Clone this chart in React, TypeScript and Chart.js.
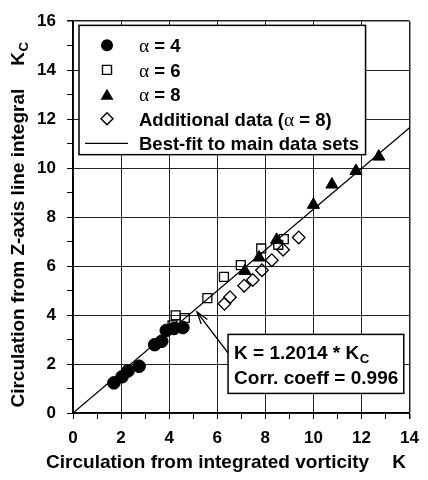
import React, { useEffect, useRef } from 'react';
import { Chart, registerables } from 'chart.js';

Chart.register(...registerables);

// ---------------- data ----------------
const alpha4X = [1.7, 2.04, 2.29, 2.75, 3.4, 3.69, 3.88, 4.2, 4.57];
const alpha4Y = [1.23, 1.48, 1.72, 1.91, 2.79, 2.93, 3.37, 3.45, 3.49];

const alpha6X = [4.14, 4.27, 4.65, 5.59, 6.28, 6.98, 7.83, 8.54, 8.77];
const alpha6Y = [3.58, 3.99, 3.88, 4.69, 5.56, 6.04, 6.72, 6.87, 7.1];

const alpha8X = [7.15, 7.74, 8.47, 10.0, 10.77, 11.77, 12.72];
const alpha8Y = [5.8, 6.35, 7.07, 8.5, 9.33, 9.88, 10.47];

const additionalX = [6.3, 6.53, 7.12, 7.48, 7.86, 8.27, 8.74, 9.39];
const additionalY = [4.46, 4.73, 5.2, 5.43, 5.83, 6.24, 6.67, 7.17];

const fitX = [0, 14];
const fitY = [0, 11.653];

const seriesLabels = ['α = 4', 'α = 6', 'α = 8', 'Additional data (α = 8)', 'Best-fit to main data sets'];

const xMin = 0;
const xMax = 14;
const yMin = 0;
const yMax = 16;
const tickStep = 1;
const labelStep = 2;

const xAxisTitle = 'Circulation from integrated vorticity';
const xAxisSymbol = 'K';
const yAxisTitle = 'Circulation from Z-axis line integral';
const yAxisSymbol = 'K';
const yAxisSub = 'C';
const fitLine1 = 'K = 1.2014 * K';
const fitLine1Sub = 'C';
const fitLine2 = 'Corr. coeff = 0.996';

// ---------------- style ----------------
const SANS = '"Liberation Sans", Arial, Helvetica, sans-serif';
const SERIF = '"Liberation Serif", "DejaVu Serif", serif';

const toPoints = (xs: number[], ys: number[]) => xs.map((x, i) => ({ x, y: ys[i] }));

function drawMixed(ctx: CanvasRenderingContext2D, text: string, x: number, y: number, size: number) {
  const parts = text.split('α');
  let cx = x;
  parts.forEach((p, i) => {
    if (i > 0) {
      ctx.font = `${size * 1.05}px ${SERIF}`;
      ctx.fillText('α', cx, y);
      cx += ctx.measureText('α').width;
    }
    ctx.font = `bold ${size}px ${SANS}`;
    ctx.fillText(p, cx, y);
    cx += ctx.measureText(p).width;
  });
}

function drawSub(ctx: CanvasRenderingContext2D, main: string, sub: string, x: number, y: number, size: number) {
  ctx.font = `bold ${size}px ${SANS}`;
  ctx.fillText(main, x, y);
  const w = ctx.measureText(main).width;
  ctx.font = `bold ${size * 0.7}px ${SANS}`;
  ctx.fillText(sub, x + w + 0.5, y + size * 0.2);
  return w + ctx.measureText(sub).width;
}

function drawMarker(ctx: CanvasRenderingContext2D, kind: string, x: number, y: number) {
  ctx.beginPath();
  ctx.lineWidth = 1.4;
  ctx.strokeStyle = '#000';
  ctx.fillStyle = '#000';
  if (kind === 'circle') {
    ctx.arc(x, y, 6, 0, Math.PI * 2);
    ctx.fill();
  } else if (kind === 'rect') {
    ctx.rect(x - 4.5, y - 4.5, 9, 9);
    ctx.stroke();
  } else if (kind === 'triangle') {
    ctx.moveTo(x - 6.5, y + 5.5);
    ctx.lineTo(x + 6.5, y + 5.5);
    ctx.lineTo(x, y - 5.5);
    ctx.closePath();
    ctx.fill();
  } else if (kind === 'diamond') {
    ctx.moveTo(x, y - 6);
    ctx.lineTo(x + 6, y);
    ctx.lineTo(x, y + 6);
    ctx.lineTo(x - 6, y);
    ctx.closePath();
    ctx.stroke();
  } else {
    ctx.moveTo(x - 22, y);
    ctx.lineTo(x + 21, y);
    ctx.lineWidth = 1.3;
    ctx.stroke();
  }
}

const overlayPlugin = {
  id: 'overlay',
  afterDraw(chart: any) {
    const { ctx, chartArea, scales } = chart;
    const xs = scales.x;
    const ys = scales.y;
    ctx.save();
    ctx.fillStyle = '#000';
    ctx.textAlign = 'left';
    ctx.textBaseline = 'alphabetic';

    // legend box
    const lx0 = xs.getPixelForValue(0.25);
    const lx1 = xs.getPixelForValue(12.17);
    const ly0 = ys.getPixelForValue(15.83);
    const ly1 = ys.getPixelForValue(10.55);
    ctx.fillStyle = '#fff';
    ctx.fillRect(lx0, ly0, lx1 - lx0, ly1 - ly0);
    ctx.strokeStyle = '#000';
    ctx.lineWidth = 1.5;
    ctx.strokeRect(lx0, ly0, lx1 - lx0, ly1 - ly0);
    const kinds = ['circle', 'rect', 'triangle', 'diamond', 'line'];
    seriesLabels.forEach((lab, i) => {
      const cy = ly0 + 20 + i * 24.5;
      drawMarker(ctx, kinds[i], lx0 + 28, cy);
      ctx.fillStyle = '#000';
      drawMixed(ctx, lab, lx0 + 60, cy + 7, 18.5);
    });

    // arrow
    const ax0 = xs.getPixelForValue(6.45);
    const ay0 = ys.getPixelForValue(2.45);
    const ax1 = xs.getPixelForValue(5.15);
    const ay1 = ys.getPixelForValue(4.13);
    ctx.beginPath();
    ctx.strokeStyle = '#000';
    ctx.lineWidth = 1.3;
    ctx.moveTo(ax0, ay0);
    ctx.lineTo(ax1, ay1);
    const ang = Math.atan2(ay0 - ay1, ax0 - ax1);
    const hl = 13;
    ctx.moveTo(ax1 + hl * Math.cos(ang + 0.3), ay1 + hl * Math.sin(ang + 0.3));
    ctx.lineTo(ax1, ay1);
    ctx.lineTo(ax1 + hl * Math.cos(ang - 0.3), ay1 + hl * Math.sin(ang - 0.3));
    ctx.stroke();

    // annotation box
    const bx0 = xs.getPixelForValue(6.45);
    const bx1 = xs.getPixelForValue(13.76);
    const by0 = ys.getPixelForValue(3.21);
    const by1 = ys.getPixelForValue(0.8);
    ctx.fillStyle = '#fff';
    ctx.fillRect(bx0, by0, bx1 - bx0, by1 - by0);
    ctx.lineWidth = 1.5;
    ctx.strokeRect(bx0, by0, bx1 - bx0, by1 - by0);
    ctx.fillStyle = '#000';
    drawSub(ctx, fitLine1, fitLine1Sub, bx0 + 6, by0 + 25, 19);
    ctx.font = `bold 19px ${SANS}`;
    ctx.fillText(fitLine2, bx0 + 6, by0 + 50);

    // x axis title
    ctx.font = `bold 19px ${SANS}`;
    const wT = ctx.measureText(xAxisTitle).width;
    const wK = ctx.measureText(xAxisSymbol).width;
    const gap = 23;
    const total = wT + gap + wK;
    const xStart = 226 - total / 2;
    const xBase = chartArea.bottom + 55;
    ctx.fillText(xAxisTitle, xStart, xBase);
    ctx.fillText(xAxisSymbol, xStart + wT + gap, xBase);

    // y axis title (rotated)
    ctx.translate(24, 225);
    ctx.rotate(-Math.PI / 2);
    ctx.font = `bold 19px ${SANS}`;
    const wYT = ctx.measureText(yAxisTitle).width;
    const wYK = ctx.measureText(yAxisSymbol).width;
    ctx.font = `bold ${19 * 0.7}px ${SANS}`;
    const wYS = ctx.measureText(yAxisSub).width;
    const totY = wYT + gap + wYK + wYS;
    const ys0 = -totY / 2;
    ctx.font = `bold 19px ${SANS}`;
    ctx.fillText(yAxisTitle, ys0, 0);
    drawSub(ctx, yAxisSymbol, yAxisSub, ys0 + wYT + gap, 0, 19);

    ctx.restore();
  },
};

const gridColor = (ctx: any) => {
  const v = ctx.tick ? ctx.tick.value : 0;
  return Math.round(v) % labelStep === 0 ? '#222' : 'rgba(0,0,0,0)';
};

export default function App() {
  const ref = useRef<HTMLCanvasElement | null>(null);

  useEffect(() => {
    if (!ref.current) return;
    const chart = new Chart(ref.current, {
      type: 'scatter',
      data: {
        datasets: [
          {
            label: seriesLabels[0],
            data: toPoints(alpha4X, alpha4Y),
            pointStyle: 'circle',
            pointRadius: 6.3,
            backgroundColor: '#000',
            borderColor: '#000',
            borderWidth: 1,
          },
          {
            label: seriesLabels[1],
            data: toPoints(alpha6X, alpha6Y),
            pointStyle: 'rect',
            pointRadius: 6.3,
            backgroundColor: 'rgba(255,255,255,0)',
            borderColor: '#000',
            borderWidth: 1.3,
          },
          {
            label: seriesLabels[2],
            data: toPoints(alpha8X, alpha8Y),
            pointStyle: 'triangle',
            pointRadius: 7,
            backgroundColor: '#000',
            borderColor: '#000',
            borderWidth: 1,
          },
          {
            label: seriesLabels[3],
            data: toPoints(additionalX, additionalY),
            pointStyle: 'rectRot',
            pointRadius: 6.3,
            backgroundColor: 'rgba(255,255,255,0)',
            borderColor: '#000',
            borderWidth: 1.3,
          },
          {
            label: seriesLabels[4],
            data: toPoints(fitX, fitY),
            showLine: true,
            pointRadius: 0,
            borderColor: '#000',
            borderWidth: 1.3,
            fill: false,
          } as any,
        ],
      },
      options: {
        animation: false,
        responsive: false,
        maintainAspectRatio: false,
        layout: { padding: { top: 14, right: 10, left: 0, bottom: 0 } },
        plugins: {
          legend: { display: false },
          tooltip: { enabled: false },
        },
        scales: {
          x: {
            type: 'linear',
            min: xMin,
            max: xMax,
            ticks: {
              stepSize: tickStep,
              autoSkip: false,
              maxRotation: 0,
              color: '#000',
              padding: 9,
              font: { family: SANS, size: 17, weight: 'bold' },
              callback: (v: any) => (Math.round(v) % labelStep === 0 ? String(v) : ''),
            },
            grid: {
              color: gridColor,
              tickColor: '#000',
              tickLength: 6,
              lineWidth: (c: any) => (c.tick && c.tick.value === xMax ? 1.5 : 1),
            },
            border: { color: '#000', width: 1.5 },
            afterFit: (s: any) => {
              s.height = 67;
            },
          },
          y: {
            type: 'linear',
            min: yMin,
            max: yMax,
            ticks: {
              stepSize: tickStep,
              autoSkip: false,
              color: '#000',
              padding: 11,
              font: { family: SANS, size: 17, weight: 'bold' },
              callback: (v: any) => (Math.round(v) % labelStep === 0 ? String(v) : ''),
            },
            grid: {
              color: gridColor,
              tickColor: '#000',
              tickLength: 6,
              lineWidth: (c: any) => (c.tick && c.tick.value === yMax ? 1.5 : 1),
            },
            border: { color: '#000', width: 1.5 },
            afterFit: (s: any) => {
              s.width = 73;
            },
          },
        },
      } as any,
      plugins: [overlayPlugin],
    });
    return () => chart.destroy();
  }, []);

  return (
    <div style={{ position: 'absolute', left: 0, top: 0, width: 428, height: 480, background: '#fff' }}>
      <canvas ref={ref} width={428} height={480} style={{ width: 428, height: 480, display: 'block' }} />
    </div>
  );
}
